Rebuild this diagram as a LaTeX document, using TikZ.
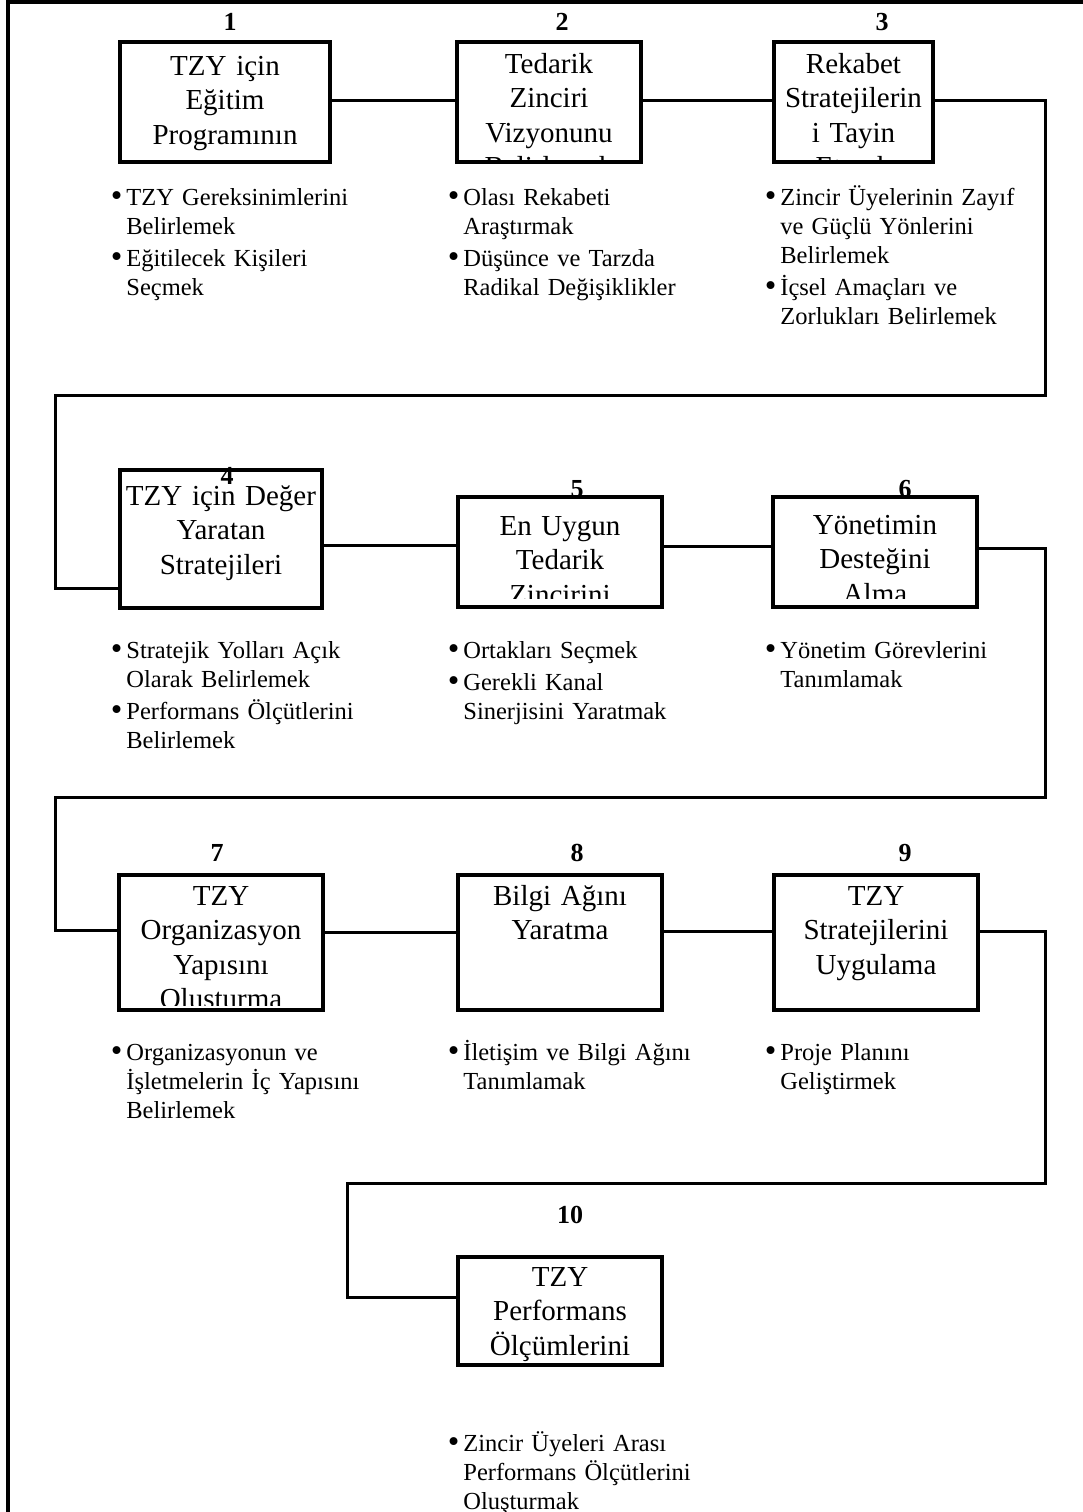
\documentclass[tikz,border=0pt]{standalone}
\usepackage{fontspec}
\setmainfont{Liberation Serif}

% A framed step: name, x1, y1, x2, y2 (px), first baseline below top (px),
% bottom clip inset (px), centred text lines (clipped to the frame)
\newcommand\flowbox[8]{%
  \node[boxnode,
    minimum width={(#4-#2)*0.5pt}, minimum height={(#5-#3)*0.5pt},
    path picture={
      \clip (path picture bounding box.north west) rectangle
            ([yshift=#7*0.5pt]path picture bounding box.south east);
      \node[boxtext] at ([yshift=-#6*0.5pt]path picture bounding box.north) {#8};
    }] (#1) at ({(#2+#4)/2},{(#3+#5)/2}) {};}
\newcommand\bitem{\leavevmode\llap{\raisebox{-0.7pt}{\scalebox{1.35}{•}}\hspace{2pt}}}
% break before a new bullet item, a little looser than a plain line break
\newcommand\nextitem{\\[1.5pt]\bitem}

\begin{document}
\begin{tikzpicture}[x=0.5pt,y=-0.5pt,
  frameline/.style={line width=1.6pt},
  conn/.style={line width=1.5pt},
  boxnode/.style={draw, line width=2pt, inner sep=0pt, outer sep=0pt},
  boxtext/.style={font=\fontsize{14.5pt}{17.25pt}\selectfont, text width=110pt,
    align=center, inner sep=0pt, anchor=base},
  numlabel/.style={font=\fontsize{13pt}{15pt}\selectfont\bfseries, inner sep=0pt, anchor=base},
  bullets/.style={font=\fontsize{12.25pt}{14.5pt}\selectfont, text width=150pt,
    align=left, inner sep=0pt, anchor=base west}]

\useasboundingbox (0,0) rectangle (1083,1512);

% outer frame (top and left sides)
\draw[frameline] (1083,2) -- (8,2) -- (8,1512);

% step numbers
\node[numlabel] (n1) at (230,30) {1};
\node[numlabel] (n2) at (562,30) {2};
\node[numlabel] (n3) at (882,30) {3};
\node[numlabel] (n4) at (227,484) {4};
\node[numlabel] (n5) at (577,497) {5};
\node[numlabel] (n6) at (905,497) {6};
\node[numlabel] (n7) at (217,861) {7};
\node[numlabel] (n8) at (577,861) {8};
\node[numlabel] (n9) at (905,861) {9};
\node[numlabel] (n10) at (570,1223) {10};

% steps
\flowbox{b1}{120}{42}{330}{162}{33}{7}{TZY için\\Eğitim\\Programının}
\flowbox{b2}{457}{42}{641}{162}{31}{0}{Tedarik\\Zinciri\\Vizyonunu\\Belirlemek}
\flowbox{b3}{774}{42}{933}{162}{31}{0}{Rekabet\\Stratejilerin\\i Tayin\\Etmek}
\flowbox{b4}{120}{470}{322}{608}{35}{7}{TZY için Değer\\Yaratan\\Stratejileri}
\flowbox{b5}{458}{497}{662}{607}{38}{9}{En Uygun\\Tedarik\\Zincirini}
\flowbox{b6}{773}{497}{977}{607}{37}{9}{Yönetimin\\Desteğini\\Alma}
\flowbox{b7}{119}{875}{323}{1010}{30}{5}{TZY\\Organizasyon\\Yapısını\\Oluşturma}
\flowbox{b8}{458}{875}{662}{1010}{30}{5}{Bilgi Ağını\\Yaratma}
\flowbox{b9}{774}{875}{978}{1010}{30}{5}{TZY\\Stratejilerini\\Uygulama}
\flowbox{b10}{458}{1257}{662}{1365}{29}{2}{TZY\\Performans\\Ölçümlerini}

% turning points of the connectors
\coordinate (r1) at (1045,395);
\coordinate (l1) at (55,588);
\coordinate (r2) at (1045,797);
\coordinate (l2) at (55,930);
\coordinate (r3) at (1045,1183);
\coordinate (l3) at (347,1297);

% connectors
\draw[conn] (b1.east |- 0,100) -- (b2.west |- 0,100);
\draw[conn] (b2.east |- 0,100) -- (b3.west |- 0,100);
\draw[conn] (b3.east |- 0,100) -| (r1) -| (l1) -- (b4.west |- l1);
\draw[conn] (b4.east |- 0,545) -- (b5.west |- 0,545);
\draw[conn] (b5.east |- 0,546) -- (b6.west |- 0,546);
\draw[conn] (b6.east |- 0,548) -| (r2) -| (l2) -- (b7.west |- l2);
\draw[conn] (b7.east |- 0,932) -- (b8.west |- 0,932);
\draw[conn] (b8.east |- 0,931) -- (b9.west |- 0,931);
\draw[conn] (b9.east |- 0,931) -| (r3) -| (l3) -- (b10.west |- l3);

% bullet notes under each step
\node[bullets] (t1) at (126,205) {\bitem TZY Gereksinimlerini\\Belirlemek\nextitem Eğitilecek Kişileri\\Seçmek};
\node[bullets] (t2) at (463,205) {\bitem Olası Rekabeti\\Araştırmak\nextitem Düşünce ve Tarzda\\Radikal Değişiklikler};
\node[bullets] (t3) at (780,205) {\bitem Zincir Üyelerinin Zayıf\\ve Güçlü Yönlerini\\Belirlemek\nextitem İçsel Amaçları ve\\Zorlukları Belirlemek};
\node[bullets] (t4) at (126,658) {\bitem Stratejik Yolları Açık\\Olarak Belirlemek\nextitem Performans Ölçütlerini\\Belirlemek};
\node[bullets] (t5) at (463,658) {\bitem Ortakları Seçmek\nextitem Gerekli Kanal\\Sinerjisini Yaratmak};
\node[bullets] (t6) at (780,658) {\bitem Yönetim Görevlerini\\Tanımlamak};
\node[bullets] (t7) at (126,1060) {\bitem Organizasyonun ve\\İşletmelerin İç Yapısını\\Belirlemek};
\node[bullets] (t8) at (463,1060) {\bitem İletişim ve Bilgi Ağını\\Tanımlamak};
\node[bullets] (t9) at (780,1060) {\bitem Proje Planını\\Geliştirmek};
\node[bullets] (t10) at (463,1451) {\bitem Zincir Üyeleri Arası\\Performans Ölçütlerini\\Oluşturmak};
\end{tikzpicture}
\end{document}
